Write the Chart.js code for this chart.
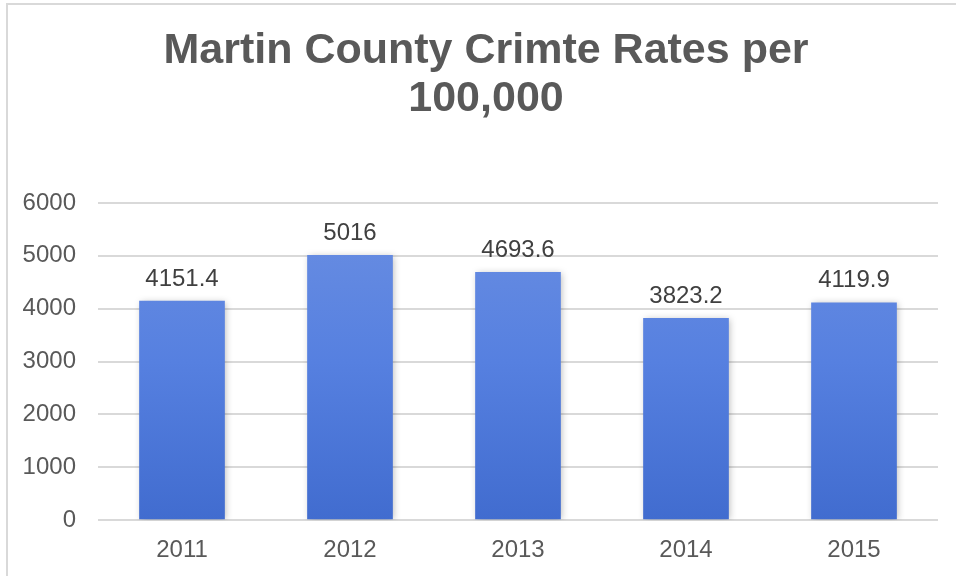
<!DOCTYPE html>
<html>
<head>
<meta charset="utf-8">
<script src="https://cdn.jsdelivr.net/npm/chart.js@4/dist/chart.umd.min.js"></script>
<style>
  html, body { margin: 0; padding: 0; background: #ffffff; }
  body { width: 956px; height: 576px; position: relative; overflow: hidden; }
  #frame { position: absolute; left: 6px; top: 3px; width: 1000px; height: 600px;
           border-left: 2px solid #d9d9d9; border-top: 2px solid #d9d9d9; }
  #wrap { position: absolute; left: 0; top: 0; width: 956px; height: 576px; }
</style>
</head>
<body>
<div id="frame"></div>
<div id="wrap"><canvas id="chart" width="956" height="576"></canvas></div>
<script>
// Crime rate per 100,000 residents, by year
const years = ['2011', '2012', '2013', '2014', '2015'];
const crimeRates = [4151.4, 5016, 4693.6, 3823.2, 4119.9];
const titleLines = ['Martin County Crimte Rates per', '100,000'];
const yTicks = [0, 1000, 2000, 3000, 4000, 5000, 6000];

const FONT = "'Liberation Sans', Arial, sans-serif";

// Soft drop shadow behind the bars
const barShadow = {
  id: 'barShadow',
  beforeDatasetsDraw(chart) {
    const ctx = chart.ctx;
    ctx.save();
    ctx.shadowColor = 'rgba(0,0,0,0.28)';
    ctx.shadowBlur = 7;
    ctx.shadowOffsetX = 1.5;
    ctx.shadowOffsetY = 1;
  },
  afterDatasetsDraw(chart) {
    chart.ctx.restore();
  }
};

// Centre the title a little right of the full canvas width
const titleShift = {
  id: 'titleShift',
  afterLayout(chart) {
    if (chart.titleBlock) chart.titleBlock.left += 34;
  }
};

// Value labels above each bar
const valueLabels = {
  id: 'valueLabels',
  afterDatasetsDraw(chart) {
    const ctx = chart.ctx;
    const meta = chart.getDatasetMeta(0);
    const data = chart.data.datasets[0].data;
    ctx.save();
    ctx.font = '24px ' + FONT;
    ctx.fillStyle = '#404040';
    ctx.textAlign = 'center';
    ctx.textBaseline = 'alphabetic';
    meta.data.forEach((bar, i) => {
      ctx.fillText(String(data[i]), bar.x, bar.y - 15);
    });
    ctx.restore();
  }
};

new Chart(document.getElementById('chart'), {
  type: 'bar',
  data: {
    labels: years,
    datasets: [{
      data: crimeRates,
      backgroundColor(context) {
        const area = context.chart.chartArea;
        if (!area) return '#5580dc';
        const g = context.chart.ctx.createLinearGradient(0, area.top, 0, area.bottom);
        g.addColorStop(0, '#6b8fe2');
        g.addColorStop(0.5, '#5680e0');
        g.addColorStop(1, '#416ccf');
        return g;
      },
      borderWidth: 0,
      barPercentage: 0.51,
      categoryPercentage: 1.0
    }]
  },
  options: {
    responsive: false,
    animation: false,
    events: [],
    layout: { padding: { left: 0, right: 18, top: 0, bottom: 3 } },
    plugins: {
      legend: { display: false },
      tooltip: { enabled: false },
      title: {
        display: true,
        text: titleLines,
        color: '#595959',
        font: { family: FONT, size: 43, weight: 'bold', lineHeight: 48 / 43 },
        padding: { top: 27, bottom: 80 }
      }
    },
    scales: {
      x: {
        grid: { display: false, drawTicks: true, tickLength: 8 },
        border: { display: false },
        ticks: {
          color: '#595959',
          font: { family: FONT, size: 24 },
          padding: 8
        }
      },
      y: {
        min: 0,
        max: 6000,
        afterBuildTicks(scale) {
          scale.ticks = yTicks.map(v => ({ value: v }));
        },
        afterFit(scale) { scale.width = 98; },
        grid: { color: '#d9d9d9', lineWidth: 2, drawTicks: false },
        border: { display: false },
        ticks: {
          color: '#595959',
          font: { family: FONT, size: 24 },
          padding: 22,
          callback: (value) => String(value)
        }
      }
    }
  },
  plugins: [barShadow, titleShift, valueLabels]
});
</script>
</body>
</html>
